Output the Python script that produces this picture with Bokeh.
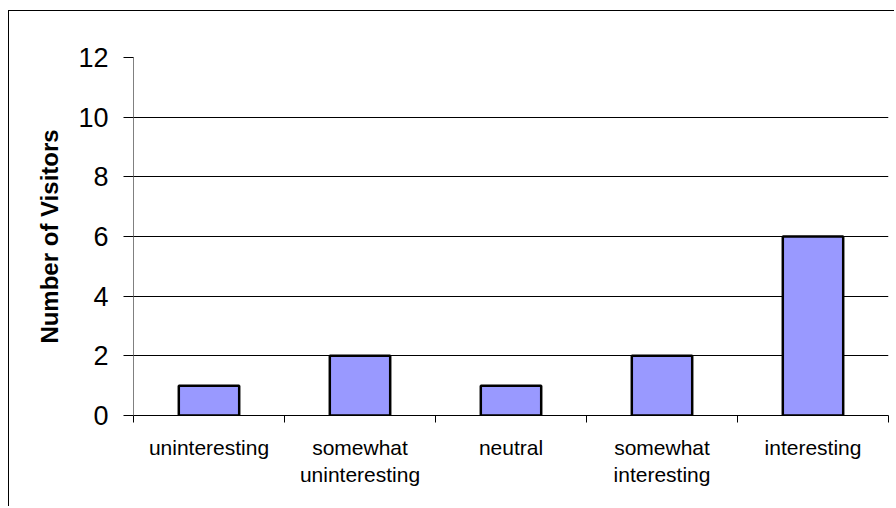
from bokeh.plotting import figure
from bokeh.models import ColumnDataSource, FixedTicker, Range1d
from bokeh.embed import file_html
from bokeh.resources import INLINE

categories = ["uninteresting", "somewhat\nuninteresting", "neutral", "somewhat\ninteresting", "interesting"]
visitors = [1, 2, 1, 2, 6]
y_ticks = [0, 2, 4, 6, 8, 10, 12]

xs = [i + 0.5 for i in range(len(categories))]
src = ColumnDataSource(dict(x=xs, top=visitors))

p = figure(width=886, height=496, output_backend="svg", toolbar_location=None,
           x_range=Range1d(0, len(categories)), y_range=Range1d(0, 12),
           min_border_left=124, min_border_top=46, min_border_right=7, min_border_bottom=92)
p.styles = {"border-left": "1px solid black", "border-top": "1px solid black",
            "margin-top": "10px", "margin-left": "8px"}
p.outline_line_color = None
p.background_fill_color = "white"
p.border_fill_color = "white"

p.vbar(x="x", top="top", width=0.4, bottom=0, source=src,
       fill_color="#9999FF", line_color="black", line_width=2.5)

# x axis
p.xaxis.ticker = FixedTicker(ticks=xs, minor_ticks=list(range(len(categories) + 1)))
p.xaxis.major_label_overrides = {x: c for x, c in zip(xs, categories)}
p.xaxis.major_tick_line_color = None
p.xaxis.major_tick_out = 0
p.xaxis.major_tick_in = 0
p.xaxis.minor_tick_out = 7
p.xaxis.minor_tick_in = 0
p.xaxis.minor_tick_line_color = "black"
p.xaxis.axis_line_color = "black"
p.xaxis.major_label_text_font = "Liberation Sans"
p.xaxis.major_label_text_font_size = "21px"
p.xaxis.major_label_text_color = "black"
p.xaxis.major_label_standoff = 13
p.xaxis.major_label_text_line_height = 1.2

# y axis
p.yaxis.ticker = FixedTicker(ticks=y_ticks)
p.yaxis.minor_tick_line_color = None
p.yaxis.major_tick_out = 10
p.yaxis.major_tick_in = 0
p.yaxis.major_tick_line_color = "black"
p.yaxis.axis_line_color = "#808080"
p.yaxis.major_label_text_font = "Liberation Sans"
p.yaxis.major_label_text_font_size = "27px"
p.yaxis.major_label_text_color = "black"
p.yaxis.major_label_standoff = 15
p.yaxis.axis_label = "Number of Visitors"
p.yaxis.axis_label_text_font = "Liberation Sans"
p.yaxis.axis_label_text_font_style = "bold"
p.yaxis.axis_label_text_font_size = "24px"
p.yaxis.axis_label_text_color = "black"
p.yaxis.axis_label_standoff = 12

p.xgrid.grid_line_color = None
p.ygrid.ticker = FixedTicker(ticks=y_ticks)
p.ygrid.grid_line_color = "black"
p.ygrid.grid_line_width = 1

open("out.html", "w").write(file_html(p, INLINE))
